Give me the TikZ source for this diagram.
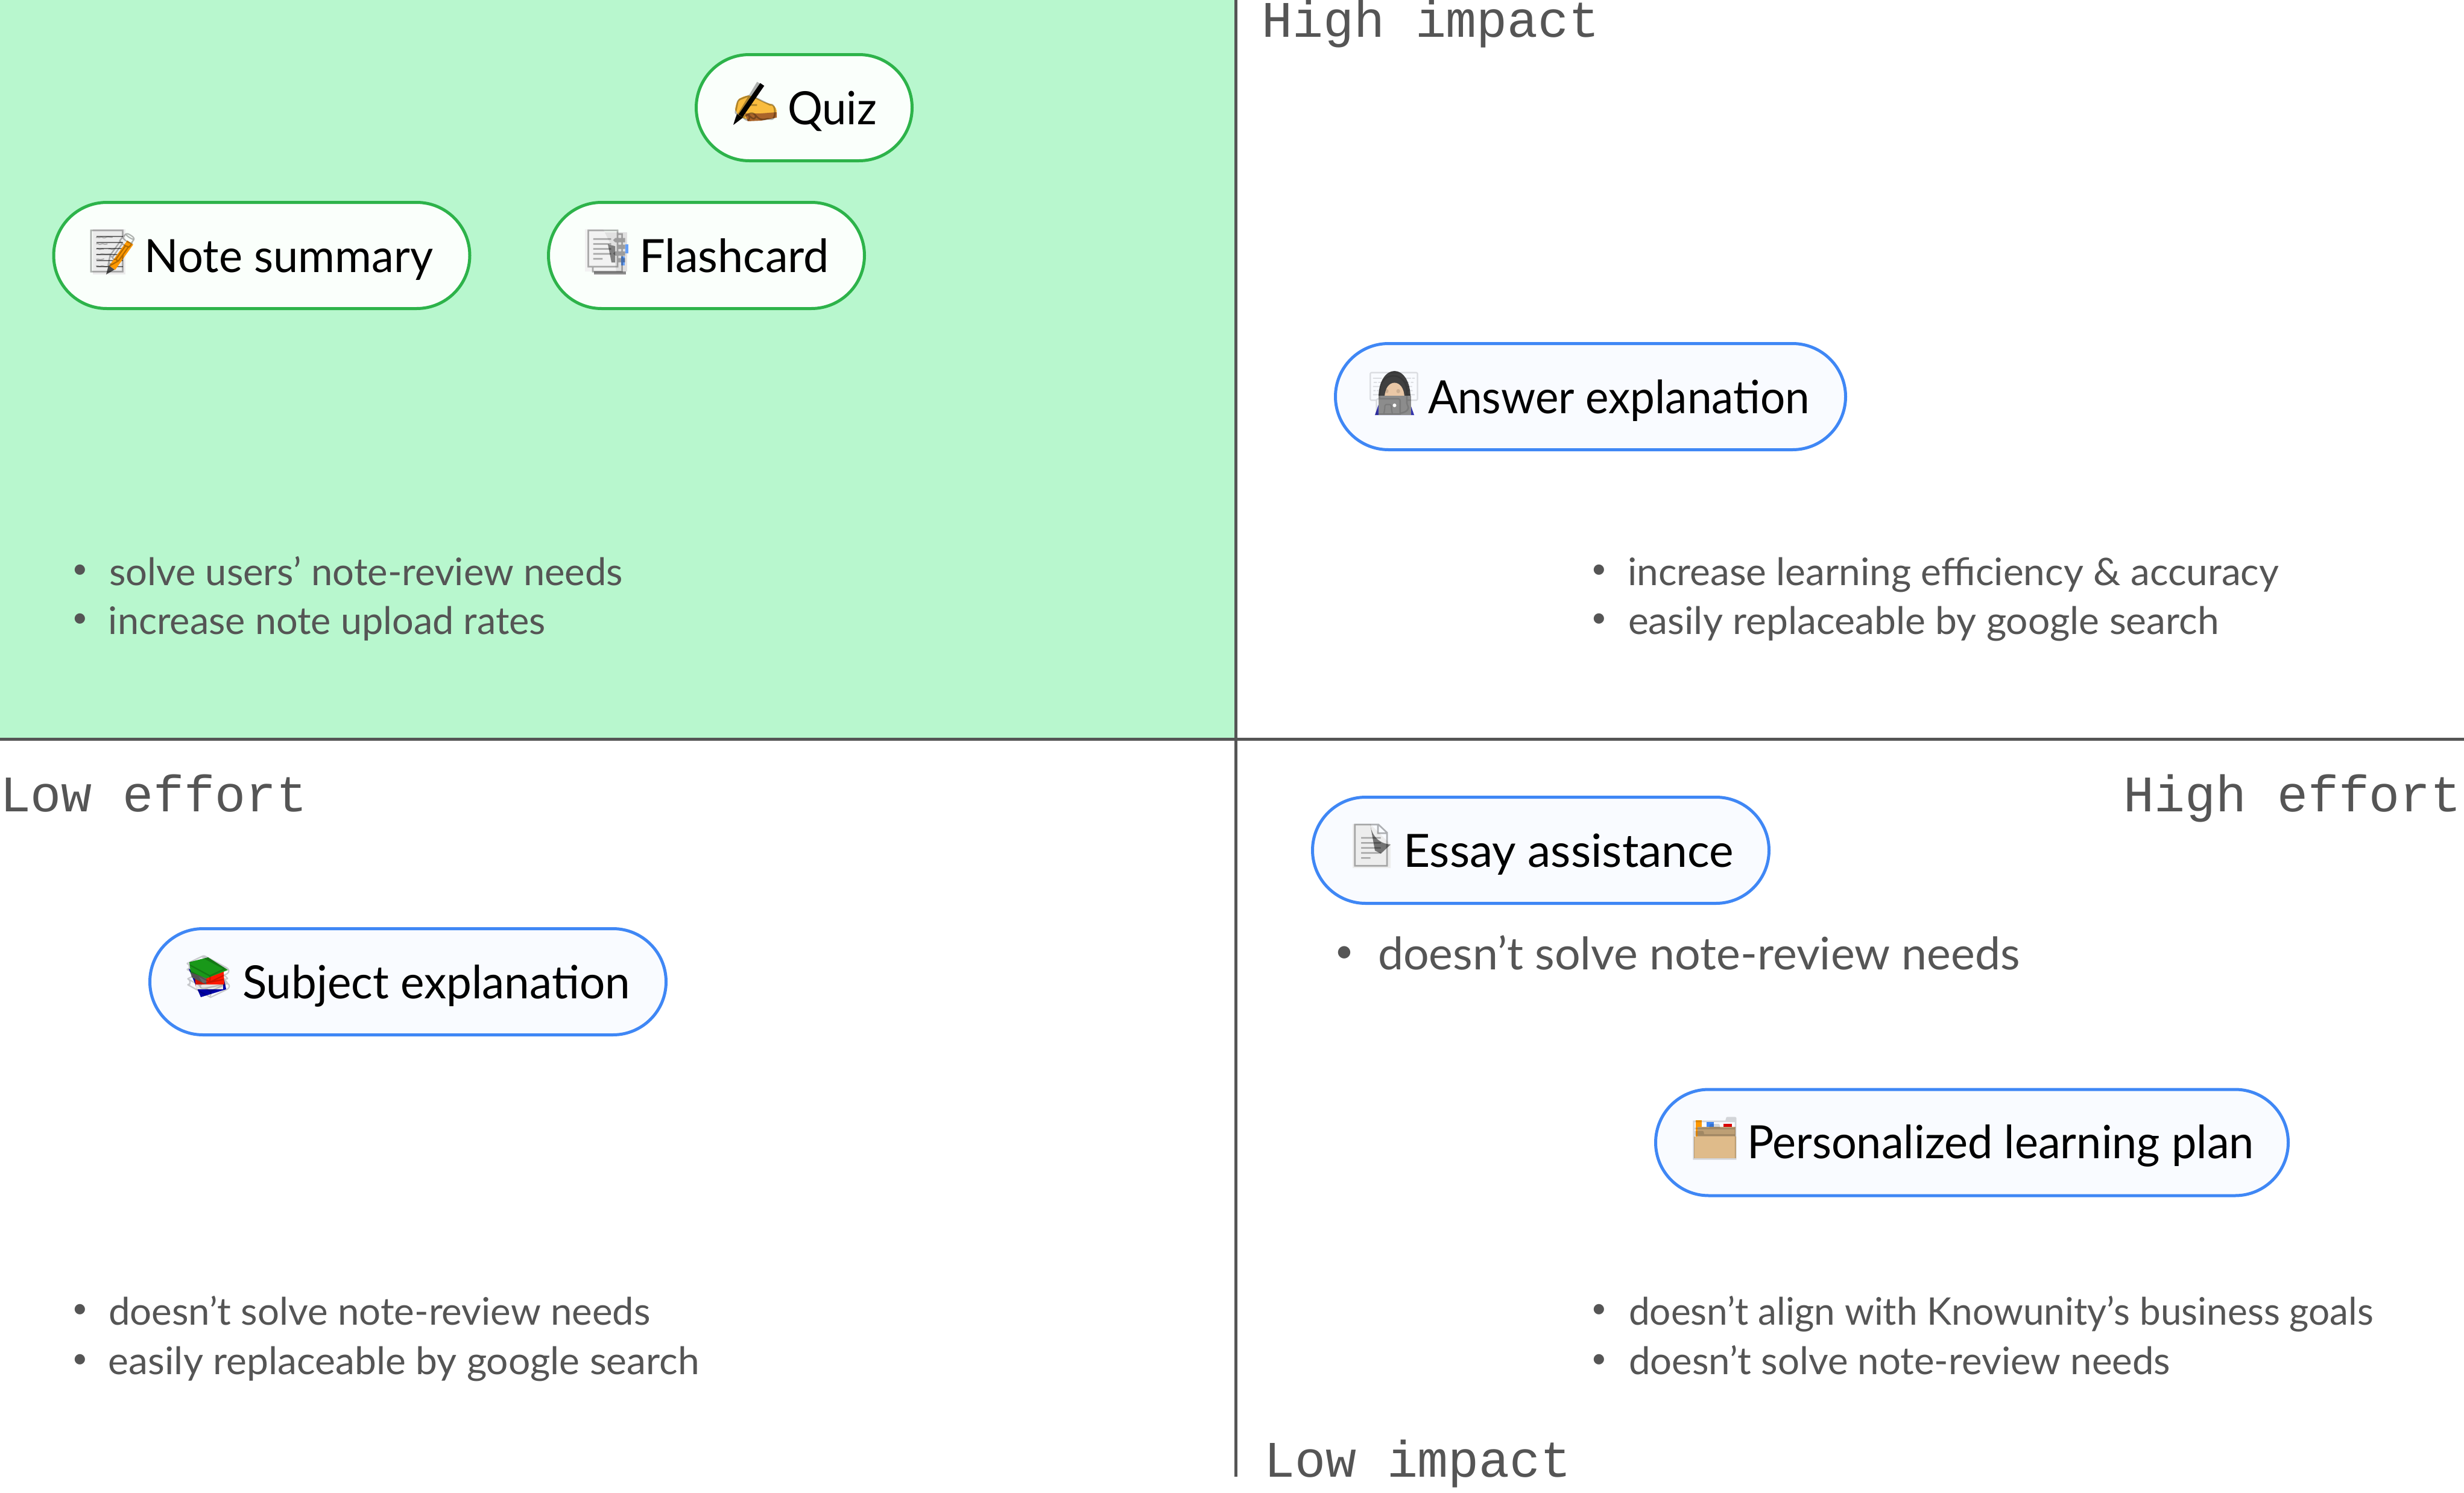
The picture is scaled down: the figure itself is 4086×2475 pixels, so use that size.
\documentclass[tikz,border=0pt]{standalone}
\usepackage{fontspec}
\setmainfont{Lato}
\newfontfamily\emofont{Noto Emoji}
\newfontfamily\monofont{Liberation Mono}
\definecolor{axisc}{HTML}{555555}
\definecolor{greenbg}{HTML}{B8F7CE}
\definecolor{greenln}{HTML}{2DB34A}
\definecolor{greenfl}{HTML}{FAFFFB}
\definecolor{blueln}{HTML}{3F87F5}
\definecolor{bluefl}{HTML}{F9FBFF}
\definecolor{handc}{HTML}{F9BC3E}
\definecolor{handd}{HTML}{A9642A}
\definecolor{skinc}{HTML}{E9C7A6}
\definecolor{tanc}{HTML}{DFBB8A}
\tikzset{
  x=0.1pt,y=-0.1pt,
  pillg/.style={draw=greenln,fill=greenfl,line width=0.5pt,rounded corners=8.8pt,inner sep=0pt},
  pillb/.style={draw=blueln,fill=bluefl,line width=0.5pt,rounded corners=8.8pt,inner sep=0pt},
  pilltext/.style={anchor=base west,inner sep=0pt,text=black,font=\fontsize{7.6pt}{8pt}\selectfont},
  bul/.style={anchor=base west,inner sep=0pt,text=axisc,font=\fontsize{6.3pt}{7pt}\selectfont},
  bulbig/.style={anchor=base west,inner sep=0pt,text=axisc,font=\fontsize{7.45pt}{8pt}\selectfont},
  dot/.style={anchor=base,inner sep=0pt,text=axisc,font=\fontsize{4.6pt}{5pt}\selectfont},
  dotbig/.style={anchor=base,inner sep=0pt,text=axisc,font=\fontsize{5.5pt}{6pt}\selectfont},
  axislab/.style={anchor=base west,inner sep=0pt,text=axisc,font=\monofont\fontsize{8.5pt}{9pt}\selectfont},
  emo/.style={anchor=center,inner sep=0pt,text=black,text opacity=0.3,font=\emofont\fontsize{7pt}{8pt}\selectfont},
  axisline/.style={draw=axisc,line width=0.5pt},
}
\newcommand{\pillat}[6]{\node[#1,minimum width=#4*0.1pt-0.5pt,minimum height=#5*0.1pt-0.5pt] (#6) at (#2,#3) {};}
\newcommand{\wfit}[2]{\resizebox{\dimexpr #1pt/10\relax}{\height}{#2}}
\begin{document}
\begin{tikzpicture}
\useasboundingbox (0,0) rectangle (4086,2475);
\fill[white] (0,0) rectangle (4086,2475);
\fill[greenbg] (0,0) rectangle (2049,1225);
\coordinate (vt) at (2049,0);
\coordinate (vb) at (2049,2448);
\coordinate (hl) at (0,1225);
\coordinate (hr) at (4086,1225);
\draw[axisline] (vt) -- (vb);
\draw[axisline] (hl) -- (hr);
% axis labels
\node[axislab] (hi) at (2090,61) {High impact};
\node[axislab] (li) at (2094,2448) {Low impact};
\node[axislab] (le) at (-2,1345) {Low effort};
\node[axislab] (he) at (3519,1345) {High effort};
% pills
\pillat{pillg}{1333.5}{178.5}{363}{181}{quiz}
\pillat{pillg}{434}{423.5}{695}{181}{note}
\pillat{pillg}{1171.5}{423.5}{529}{181}{flash}
\pillat{pillb}{2637.5}{657.5}{851}{181}{answer}
\pillat{pillb}{2555}{1409.5}{762}{181}{essay}
\pillat{pillb}{3270}{1894}{1054}{181}{plan}
\pillat{pillb}{676.5}{1627.5}{861}{181}{subject}
% --- icon colours
% hand
\fill[handc,rounded corners=1.2pt] (1218,172) -- (1232,157) -- (1252,160) -- (1270,172) -- (1288,173) -- (1288,195) -- (1262,200) -- (1235,198) -- (1220,190) -- cycle;
\fill[handd] (1235,188) -- (1262,188) -- (1288,186) -- (1288,195) -- (1262,200) -- (1240,201) -- cycle;
\draw[line width=0.8pt,black] (1264,140) -- (1228,192);
\fill[black] (1232,195) -- (1222,189) -- (1216,207) -- cycle;
% note page + pencil
\fill[black!8] (154,380) rectangle (208,455);
\foreach \yy in {392,402,412,422,432,442}{\draw[black!55,line width=0.12pt] (160,\yy) -- (204,\yy);}
\draw[orange!80!yellow,line width=1.2pt] (216,402) -- (186,444);
\fill[black!70] (180,440) -- (190,447) -- (176,455) -- cycle;
% bookmark tabs
\fill[black!45] (985,445) rectangle (1038,455);
\fill[black!12] (985,385) rectangle (1040,450);
\fill[black!5] (970,380) -- (1000,380) -- (1015,410) -- (1022,450) -- (970,450) -- cycle;
\fill[black!50] (1008,405) -- (1020,408) -- (1020,435) -- (1014,435) -- cycle;
\fill[blueln!80] (1037,405) rectangle (1042,420);
\fill[blueln!80] (1030,425) rectangle (1036,440);
% woman with laptop
\fill[blue!60!black!80] (2280,688) -- (2288,665) -- (2337,665) -- (2345,688) -- cycle;
\fill[black!75] (2286,660) .. controls (2286,600) and (2339,600) .. (2339,660) -- cycle;
\fill[skinc] (2296,660) .. controls (2296,626) and (2329,626) .. (2329,660) -- cycle;
\fill[black!45] (2286,656) rectangle (2340,688);
\fill[white] (2312.5,672) circle[radius=0.3pt];
% essay page
\fill[black!7] (2243,1366) -- (2272,1366) -- (2306,1400) -- (2306,1439) -- (2243,1439) -- cycle;
\fill[black!55] (2272,1366) .. controls (2275,1385) and (2285,1398) .. (2306,1400) -- (2290,1415) -- (2280,1410) -- cycle;
% folder
\fill[orange!80!yellow] (2812,1857) rectangle (2822,1885);
\fill[blueln] (2830,1860) rectangle (2842,1868);
\fill[red!85!black] (2858,1863) rectangle (2872,1885);
\fill[blueln] (2840,1874) rectangle (2852,1882);
\fill[tanc!85!black] (2815,1868) rectangle (2878,1888);
\fill[tanc] (2809,1884) rectangle (2879,1920);
% books
\fill[blue!65!black] (313,1606) -- (372,1625) -- (375,1640) -- (333,1653) -- cycle;
\fill[red!80!orange] (322,1610) -- (371,1610) -- (372,1632) -- (325,1637) -- cycle;
\fill[black!10] (325,1632) rectangle (370,1640);
\fill[green!55!black!90] (314,1595) -- (345,1587) -- (378,1608) -- (342,1622) -- (316,1612) -- cycle;
\fill[black!60] (316,1612) -- (342,1622) -- (342,1632) -- (318,1620) -- cycle;
% emoji glyphs as real text
\node[emo] (e1) at (1252,172) {✍};
\node[emo] (e2) at (187,417) {📝};
\node[emo] (e3) at (1006,417) {📑};
\node[emo,text opacity=0.12] (e4) at (2312,653) {👩^^^^200d💻};
\node[emo] (e5) at (2274,1402) {📄};
\node[emo,text opacity=0.15] (e6) at (2844,1888) {🗂};
\node[emo,text opacity=0.2] (e7) at (346,1620) {📚};
% pill text
\node[pilltext] (t1) at (1304,206) {\wfit{148}{Quiz}};
\node[pilltext] (t2) at (238,451) {\wfit{478}{Note summary}};
\node[pilltext] (t3) at (1058,451) {\wfit{315}{Flashcard}};
\node[pilltext] (t4) at (2366,685) {\wfit{633}{Answer explanation}};
\node[pilltext] (t5) at (2325,1437) {\wfit{548}{Essay assistance}};
\node[pilltext] (t6) at (2895,1920) {\wfit{841}{Personalized learning plan}};
\node[pilltext] (t7) at (400,1655) {\wfit{643}{Subject explanation}};
% bullets
\node[dot] (d1) at (133,958.5) {•};
\node[dot] (d2) at (133,1039.5) {•};
\node[bul] (b1) at (179,970) {\wfit{852}{solve users’ note-review needs}};
\node[bul] (b2) at (178,1051) {\wfit{725}{increase note upload rates}};
\node[dot] (d3) at (2652,958.5) {•};
\node[dot] (d4) at (2652,1039.5) {•};
\node[bul] (b3) at (2697,970) {\wfit{1080}{increase learning efficiency \& accuracy}};
\node[bul] (b4) at (2698,1051) {\wfit{980}{easily replaceable by google search}};
\node[dotbig] (d5) at (2229,1595) {•};
\node[bulbig] (b5) at (2283,1607) {\wfit{1065}{doesn’t solve note-review needs}};
\node[dot] (d6) at (133,2184.5) {•};
\node[dot] (d7) at (133,2267.5) {•};
\node[bul] (b6) at (178,2196) {\wfit{899}{doesn’t solve note-review needs}};
\node[bul] (b7) at (178,2278) {\wfit{980}{easily replaceable by google search}};
\node[dot] (d8) at (2652,2184.5) {•};
\node[dot] (d9) at (2652,2267.5) {•};
\node[bul] (b8) at (2699,2196) {\wfit{1235}{doesn’t align with Knowunity’s business goals}};
\node[bul] (b9) at (2699,2278) {\wfit{898}{doesn’t solve note-review needs}};
\end{tikzpicture}
\end{document}
